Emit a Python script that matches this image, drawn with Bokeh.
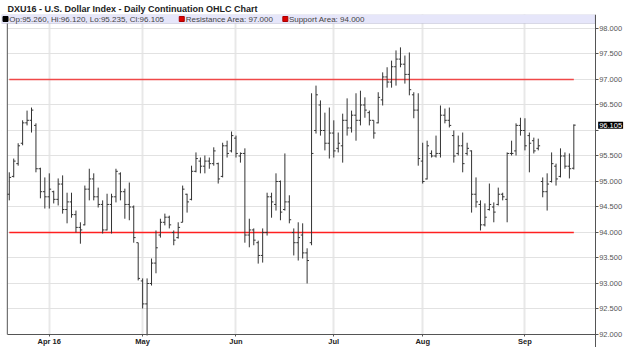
from bokeh.plotting import figure
from bokeh.models import (Range1d, FixedTicker, PrintfTickFormatter,
                          Label, BoxAnnotation, ColumnDataSource)
from bokeh.embed import file_html
from bokeh.resources import INLINE

# ---- data ----
title_text = "DXU16 - U.S. Dollar Index - Daily Continuation OHLC Chart"

opens = [94.75, 95.10, 95.35, 95.75, 96.15, 96.20, 96.10, 95.25, 94.80, 94.70,
         94.80, 94.65, 94.95, 94.45, 94.60, 94.35, 94.10, 94.15, 94.85, 95.05,
         94.70, 94.55, 94.05, 94.55, 94.70, 95.15, 94.80, 94.55, 94.50, 93.80,
         93.05, 92.60, 93.00, 93.40, 93.95, 94.20, 94.30, 94.00, 93.90, 94.20,
         94.75, 94.65, 95.20, 95.40, 95.30, 95.40, 95.35, 95.35, 95.10, 95.70,
         95.60, 95.85, 95.50, 95.55, 93.95, 94.05, 93.80, 93.55, 94.00, 94.70,
         94.55, 95.00, 94.45, 94.60, 94.00, 93.80, 93.95, 93.60, 93.80, 96.00,
         96.50, 96.00, 95.75, 95.95, 95.65, 95.70, 96.20, 96.05, 96.30, 96.20,
         96.50, 96.35, 96.20, 96.15, 96.60, 97.05, 96.95, 97.25, 97.40, 97.30,
         97.10, 96.70, 96.40, 95.40, 95.05, 95.55, 95.50, 95.55, 96.30, 96.20,
         95.90, 95.55, 95.70, 95.55, 95.60, 94.75, 94.55, 94.15, 94.45, 94.50,
         94.55, 94.75, 94.65, 95.55, 95.60, 96.10, 96.00, 95.90, 95.80, 95.65,
         95.00, 94.80, 95.00, 95.30, 95.10, 95.50, 95.30, 95.26]
highs = [95.18, 95.45, 95.75, 96.20, 96.39, 96.45, 96.14, 95.27, 95.08, 95.16,
         94.82, 95.06, 95.12, 94.78, 94.78, 94.43, 94.20, 94.92, 95.25, 95.16,
         94.88, 94.63, 94.76, 94.76, 95.25, 95.18, 94.86, 94.98, 94.53, 93.80,
         93.10, 93.10, 93.49, 94.04, 94.27, 94.37, 94.33, 94.04, 94.20, 94.92,
         94.76, 95.31, 95.57, 95.47, 95.51, 95.47, 95.67, 95.37, 95.76, 95.80,
         95.98, 95.90, 95.57, 95.65, 94.27, 94.08, 93.84, 94.08, 94.78, 94.78,
         95.16, 95.02, 95.55, 94.73, 94.08, 94.20, 94.18, 93.69, 96.73, 96.88,
         96.59, 96.35, 96.45, 96.20, 95.96, 96.33, 96.63, 96.39, 96.73, 96.78,
         96.65, 96.39, 96.20, 96.75, 97.14, 97.24, 97.37, 97.57, 97.63, 97.47,
         97.53, 96.75, 96.73, 95.76, 95.80, 95.61, 95.90, 96.49, 96.43, 96.45,
         96.00, 95.90, 95.96, 95.76, 95.61, 95.08, 94.63, 94.57, 94.96, 94.59,
         94.88, 94.78, 95.57, 95.80, 96.14, 96.25, 96.24, 95.96, 95.86, 95.84,
         95.08, 95.16, 95.57, 95.35, 95.65, 95.57, 95.55, 96.12]
lows = [94.63, 95.08, 95.31, 95.71, 96.10, 95.96, 95.18, 94.67, 94.47, 94.47,
        94.57, 94.53, 94.37, 94.18, 94.29, 94.00, 93.78, 94.14, 94.63, 94.63,
        94.49, 93.98, 94.04, 93.98, 94.59, 94.63, 94.27, 94.24, 93.80, 93.06,
        92.51, 91.98, 92.96, 93.20, 93.90, 94.14, 94.08, 93.75, 93.88, 94.20,
        94.39, 94.63, 95.18, 95.16, 95.16, 95.25, 95.31, 94.96, 95.08, 95.47,
        95.57, 95.47, 95.37, 93.80, 93.71, 93.75, 93.39, 93.41, 93.94, 94.29,
        94.43, 94.24, 94.43, 94.18, 93.55, 93.45, 93.49, 93.00, 93.75, 95.94,
        95.90, 95.61, 95.45, 95.47, 95.57, 95.37, 95.90, 95.96, 95.80, 96.10,
        96.25, 96.10, 95.84, 96.14, 96.49, 96.84, 96.84, 96.88, 97.24, 96.92,
        96.69, 96.24, 95.31, 94.96, 95.04, 95.47, 95.47, 95.47, 96.14, 96.06,
        95.37, 95.51, 95.18, 95.51, 94.39, 94.49, 94.04, 94.12, 94.43, 94.20,
        94.53, 94.63, 94.20, 95.51, 95.51, 95.90, 95.61, 95.18, 95.55, 95.61,
        94.69, 94.43, 94.98, 94.92, 95.08, 95.25, 95.06, 95.235]
closes = [95.08, 95.40, 95.70, 96.15, 96.20, 96.40, 95.25, 94.80, 94.70, 94.85,
          94.65, 94.95, 94.45, 94.60, 94.35, 94.10, 94.05, 94.85, 95.05, 94.70,
          94.55, 94.05, 94.55, 94.70, 95.20, 94.80, 94.55, 94.50, 93.90, 93.10,
          92.60, 93.00, 93.40, 93.70, 94.20, 94.30, 94.15, 93.85, 94.10, 94.85,
          94.60, 95.20, 95.45, 95.30, 95.40, 95.35, 95.60, 95.05, 95.70, 95.55,
          95.90, 95.55, 95.55, 93.95, 94.05, 93.85, 93.55, 94.00, 94.70, 94.60,
          95.00, 94.40, 94.60, 94.25, 93.80, 93.90, 93.60, 93.45, 95.55, 96.70,
          96.00, 95.75, 95.95, 95.60, 95.75, 96.20, 96.05, 96.30, 96.20, 96.50,
          96.40, 96.20, 95.95, 96.65, 97.05, 96.95, 97.25, 97.40, 97.30, 97.10,
          96.80, 96.40, 95.45, 95.00, 95.70, 95.50, 95.55, 96.30, 96.20, 96.10,
          95.50, 95.70, 95.35, 95.65, 94.75, 94.60, 94.15, 94.30, 94.55, 94.40,
          94.75, 94.70, 95.55, 95.55, 96.10, 96.00, 95.70, 95.75, 95.60, 95.70,
          94.80, 94.95, 95.35, 95.05, 95.50, 95.30, 95.25, 96.105]

x_tick_idx = [9, 30, 51, 73, 93, 116]
x_tick_labels = ["Apr 16", "May", "Jun", "Jul", "Aug", "Sep"]
y_ticks = [92.0, 92.5, 93.0, 93.5, 94.0, 94.5, 95.0, 95.5, 96.0, 96.5, 97.0, 97.5, 98.0]

resistance = 97.0
support = 94.0

# ---- layout constants ----
X_START, X_END = -1.75, 138.4     # frame spans the whole width (price scale drawn inside)
AXIS_L = -0.44                    # dark rule on the left
AXIS_R = 131.8                    # price scale rule on the right
Y_START, Y_END = 91.745, 98.2745  # frame reaches the bottom edge (date scale drawn inside)
AXIS_B = 92.0                     # date scale rule
LEGEND_BOTTOM = 98.098
LEGEND_MID = 98.186
FONT = "Liberation Sans"
BAR_COLOR = "#333333"
TICK_W = 0.42

n = len(closes)
idx = list(range(n))
src = ColumnDataSource(dict(
    x=idx, o=opens, h=highs, l=lows, c=closes,
    xl=[i - TICK_W for i in idx], xr=[i + TICK_W for i in idx],
))

p = figure(width=624, height=347, output_backend="svg", toolbar_location=None,
           x_range=Range1d(X_START, X_END), y_range=Range1d(Y_START, Y_END),
           y_axis_location="right",
           min_border_left=1, min_border_right=0, min_border_top=14, min_border_bottom=0)
p.outline_line_color = None
p.background_fill_color = "white"
p.border_fill_color = "white"

# title
p.title.text = title_text
p.title.text_font = FONT
p.title.text_font_style = "bold"
p.title.text_font_size = "9px"
p.title.text_color = "#222222"
p.title.align = "left"
p.title.offset = 6
p.title.standoff = 2

# bottom (date) scale, pinned at AXIS_B
xa = p.xaxis[0]
xa.fixed_location = AXIS_B
xa.ticker = FixedTicker(ticks=x_tick_idx)
xa.major_label_overrides = {k: v for k, v in zip(x_tick_idx, x_tick_labels)}
xa.bounds = (AXIS_L, AXIS_R)
xa.major_label_text_font = FONT
xa.major_label_text_font_style = "bold"
xa.major_label_text_font_size = "7.5px"
xa.major_label_text_color = "#222222"
xa.axis_line_color = "#555555"
xa.major_tick_line_color = "#555555"
xa.major_tick_out = 2
xa.major_tick_in = 0
xa.minor_tick_line_color = None
xa.major_label_standoff = 1

# right price scale, pinned at AXIS_R
ya = p.yaxis[0]
ya.fixed_location = AXIS_R
ya.ticker = FixedTicker(ticks=y_ticks)
ya.formatter = PrintfTickFormatter(format="%.3f")
ya.major_label_overrides = {96.0: ""}
ya.major_label_text_font = FONT
ya.major_label_text_font_size = "7.5px"
ya.major_label_text_color = "#555555"
ya.axis_line_color = "#555555"
ya.major_tick_line_color = "#555555"
ya.major_tick_out = 3
ya.major_tick_in = 0
ya.minor_tick_line_color = None
ya.major_label_standoff = 1

# grids
p.xgrid.ticker = FixedTicker(ticks=x_tick_idx)
p.xgrid.grid_line_color = "#e8e8e8"
p.xgrid.grid_line_width = 2
p.ygrid.ticker = FixedTicker(ticks=y_ticks)
p.ygrid.grid_line_color = "#e2e2e2"

# blank strips outside the rules, legend strip on top
p.add_layout(BoxAnnotation(right=AXIS_L, top=LEGEND_BOTTOM, fill_color="white", fill_alpha=1.0,
                           line_color=None, level="underlay"))
p.add_layout(BoxAnnotation(left=AXIS_R, fill_color="white", fill_alpha=1.0,
                           line_color=None, level="underlay"))
p.add_layout(BoxAnnotation(top=AXIS_B, fill_color="white", fill_alpha=1.0,
                           line_color=None, level="underlay"))
p.add_layout(BoxAnnotation(bottom=LEGEND_BOTTOM, right=AXIS_R, fill_color="#e6e6fa", fill_alpha=1.0,
                           line_color="#9a9ab4", line_width=1, level="underlay"))

# left rule
p.segment(x0=[AXIS_L], y0=[AXIS_B], x1=[AXIS_L], y1=[LEGEND_BOTTOM], line_color="#555555", line_width=1)

# support / resistance lines across the data span
p.segment(x0=[0], y0=[resistance], x1=[n - 1], y1=[resistance],
          line_color="#f04848", line_width=1.5)
p.segment(x0=[0], y0=[support], x1=[n - 1], y1=[support],
          line_color="#ff2020", line_width=1.5)

# OHLC bars
p.segment(x0="x", y0="l", x1="x", y1="h", source=src, line_color=BAR_COLOR, line_width=1)
p.segment(x0="xl", y0="o", x1="x", y1="o", source=src, line_color=BAR_COLOR, line_width=1)
p.segment(x0="x", y0="c", x1="xr", y1="c", source=src, line_color=BAR_COLOR, line_width=1)

# legend strip content
leg_font = "8px"
p.scatter(x=[-0.85], y=[LEGEND_MID], marker="square", size=5, fill_color="black", line_color="black")
p.scatter(x=[38.8, 62.1], y=[LEGEND_MID, LEGEND_MID], marker="square", size=5,
          fill_color="#dd0000", line_color="#aa0000")
p.add_layout(Label(x=0.0, y=LEGEND_MID,
                   text=f"Op:{opens[-1]:.3f}, Hi:{highs[-1]:.3f}, Lo:{lows[-1]:.3f}, Cl:{closes[-1]:.3f}",
                   text_font=FONT, text_font_size=leg_font, text_color="#444444",
                   text_baseline="middle", text_align="left"))
p.add_layout(Label(x=39.7, y=LEGEND_MID, text=f"Resistance Area: {resistance:.3f}",
                   text_font=FONT, text_font_size=leg_font, text_color="#444444",
                   text_baseline="middle", text_align="left"))
p.add_layout(Label(x=62.9, y=LEGEND_MID, text=f"Support Area: {support:.3f}",
                   text_font=FONT, text_font_size=leg_font, text_color="#444444",
                   text_baseline="middle", text_align="left"))

# last price marker on the price scale
last_lbl = Label(x=AXIS_R, y=closes[-1], x_offset=3, text=f"{closes[-1]:.3f}",
                 text_font=FONT, text_font_size="7.5px", text_color="white",
                 background_fill_color="black", text_baseline="middle", text_align="left")
try:
    last_lbl.padding = 1
except Exception:
    pass
p.add_layout(last_lbl)

open("out.html", "w").write(file_html(p, INLINE))
